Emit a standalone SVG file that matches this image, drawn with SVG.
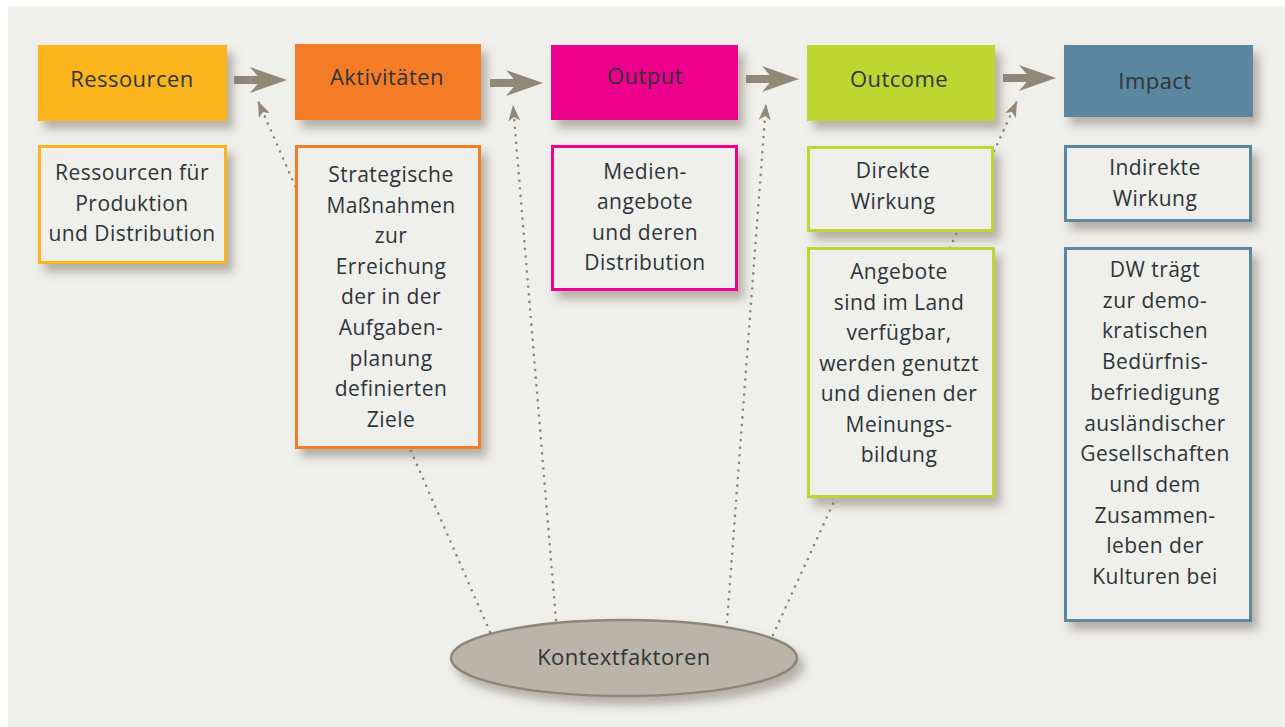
<svg xmlns="http://www.w3.org/2000/svg" width="1285" height="727" viewBox="0 0 1285 727">
<defs>
<style>
.t{font-family:"Open Sans","Liberation Sans",sans-serif;font-weight:500;fill:#2e3538;text-anchor:middle;letter-spacing:0.45px}
.h{font-size:22px}
.b{font-size:21px}
.box{fill:#efefeb;stroke-width:3}
.dot{fill:none;stroke:#8c8375;stroke-width:2.6;stroke-linecap:round;stroke-dasharray:0 7.6;marker-end:url(#sm)}
.big{fill:none;stroke:#918878;stroke-width:8;marker-end:url(#bm)}
.sh{filter:url(#sh)}
</style>
<filter id="sh" x="-20%" y="-20%" width="150%" height="150%"><feDropShadow dx="6" dy="8" stdDeviation="5" flood-color="#7a7162" flood-opacity="0.5"/></filter>
<marker id="bm" markerUnits="userSpaceOnUse" viewBox="0 0 37 26" refX="15" refY="13" markerWidth="37" markerHeight="26" orient="auto"><path d="M0,0 L37,13 L0,26 L11,13 Z" fill="#918878"/></marker>
<marker id="sm" markerUnits="userSpaceOnUse" viewBox="0 0 16 12" refX="16" refY="6" markerWidth="16" markerHeight="12" orient="auto"><path d="M0,0 L16,6 L0,12 L4,6 Z" fill="#918878"/></marker>
</defs>
<rect x="0" y="0" width="1285" height="727" fill="#ffffff"/>
<rect x="8" y="6" width="1277" height="721" fill="#efefeb"/>

<g id="connectors">
<path class="dot" d="M490,632 L258,101"/>
<path class="dot" d="M556,620 L513,105"/>
<path class="dot" d="M727,622 L766,104"/>
<path class="dot" d="M773,635 L1017,101"/>
<path class="big" d="M234,80 H265"/>
<path class="big" d="M490,83 H521"/>
<path class="big" d="M746,79 H777"/>
<path class="big" d="M1003,78 H1034"/>
</g>

<g id="ressourcen">
<rect class="sh" x="38" y="45" width="189" height="76" fill="#fbb41f"/>
<text class="t h" x="132" y="87">Ressourcen</text>
</g>
<g id="aktivitaeten">
<rect class="sh" x="295" y="44" width="186" height="76" fill="#f47b27"/>
<text class="t h" x="387" y="85">Aktivitäten</text>
</g>
<g id="output">
<rect class="sh" x="551" y="45" width="187" height="75" fill="#ec008c"/>
<text class="t h" x="645" y="84">Output</text>
</g>
<g id="outcome">
<rect class="sh" x="807" y="45" width="188" height="76" fill="#bdd633"/>
<text class="t h" x="899" y="87">Outcome</text>
</g>
<g id="impact">
<rect class="sh" x="1064" y="45" width="189" height="72" fill="#5b87a1"/>
<text class="t h" x="1155" y="89">Impact</text>
</g>

<g id="ressourcen-detail">
<rect class="box sh" x="39.5" y="146.5" width="186" height="116" stroke="#fbb41f"/>
<text class="t b" x="132" y="180"><tspan x="132">Ressourcen für</tspan><tspan x="132" dy="30.5">Produktion</tspan><tspan x="132" dy="30.5">und Distribution</tspan></text>
</g>
<g id="aktivitaeten-detail">
<rect class="box sh" x="296.5" y="146.5" width="183" height="301" stroke="#f47b27"/>
<text class="t b" x="391" y="182"><tspan x="391">Strategische</tspan><tspan x="391" dy="30.6">Maßnahmen</tspan><tspan x="391" dy="30.6">zur</tspan><tspan x="391" dy="30.6">Erreichung</tspan><tspan x="391" dy="30.6">der in der</tspan><tspan x="391" dy="30.6">Aufgaben-</tspan><tspan x="391" dy="30.6">planung</tspan><tspan x="391" dy="30.6">definierten</tspan><tspan x="391" dy="30.6">Ziele</tspan></text>
</g>
<g id="output-detail">
<rect class="box sh" x="552.5" y="146.5" width="184" height="143" stroke="#ec008c"/>
<text class="t b" x="645" y="178.5"><tspan x="645">Medien-</tspan><tspan x="645" dy="30.6">angebote</tspan><tspan x="645" dy="30.6">und deren</tspan><tspan x="645" dy="30.6">Distribution</tspan></text>
</g>
<g id="outcome-direkt">
<rect class="box sh" x="808.5" y="147.5" width="184" height="83" stroke="#bdd633"/>
<text class="t b" x="893" y="178"><tspan x="893">Direkte</tspan><tspan x="893" dy="31">Wirkung</tspan></text>
</g>
<g id="outcome-detail">
<rect class="box sh" x="808.5" y="248.5" width="185" height="248" stroke="#bdd633"/>
<text class="t b" x="899" y="279"><tspan x="899">Angebote</tspan><tspan x="899" dy="30.5">sind im Land</tspan><tspan x="899" dy="30.5">verfügbar,</tspan><tspan x="899" dy="30.5">werden genutzt</tspan><tspan x="899" dy="30.5">und dienen der</tspan><tspan x="899" dy="30.5">Meinungs-</tspan><tspan x="899" dy="30.5">bildung</tspan></text>
</g>
<g id="impact-indirekt">
<rect class="box sh" x="1065.5" y="146.5" width="185" height="74" stroke="#5b87a1"/>
<text class="t b" x="1155" y="175"><tspan x="1155">Indirekte</tspan><tspan x="1155" dy="31">Wirkung</tspan></text>
</g>
<g id="impact-detail">
<rect class="box sh" x="1065.5" y="248.5" width="185" height="372" stroke="#5b87a1"/>
<text class="t b" x="1155" y="277"><tspan x="1155">DW trägt</tspan><tspan x="1155" dy="30.7">zur demo-</tspan><tspan x="1155" dy="30.7">kratischen</tspan><tspan x="1155" dy="30.7">Bedürfnis-</tspan><tspan x="1155" dy="30.7">befriedigung</tspan><tspan x="1155" dy="30.7">ausländischer</tspan><tspan x="1155" dy="30.7">Gesellschaften</tspan><tspan x="1155" dy="30.7">und dem</tspan><tspan x="1155" dy="30.7">Zusammen-</tspan><tspan x="1155" dy="30.7">leben der</tspan><tspan x="1155" dy="30.7">Kulturen bei</tspan></text>
</g>

<g id="kontextfaktoren">
<ellipse class="sh" cx="624" cy="658" rx="173" ry="38" fill="#bbb4a9" stroke="#8f8676" stroke-width="2.5"/>
<text class="t h" x="624" y="665">Kontextfaktoren</text>
</g>
</svg>
